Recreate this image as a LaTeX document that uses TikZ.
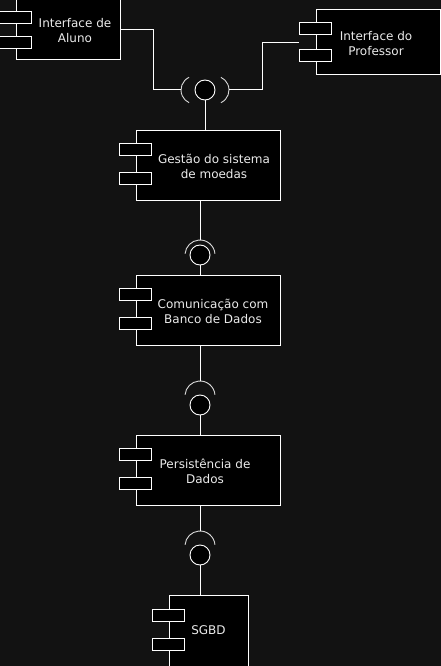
\documentclass[tikz,border=0pt]{standalone}
\usepackage{fontspec}
\setmainfont{DejaVu Sans}
\usetikzlibrary{calc}
\definecolor{bgdark}{RGB}{18,18,18}
\definecolor{labelgray}{RGB}{235,235,235}
% two small port boxes on the left side of a component
\newcommand{\compports}[1]{%
  \node[port] (#1p1) at ($(#1.north west)!0.2!(#1.south west)+(0,6)$) {};
  \node[port] (#1p2) at ($(#1.north west)!0.6!(#1.south west)+(0,6)$) {};}
\begin{document}
\begin{tikzpicture}[x=1pt,y=-1pt,
    comp/.style={draw=white,fill=black,line width=1pt,inner sep=0pt},
    complabel/.style={align=center,text=labelgray,inner sep=0pt,
      font=\fontsize{12}{15}\selectfont},
    port/.style={draw=white,fill=black,line width=1pt,inner sep=0pt,
      minimum width=32pt,minimum height=12pt},
    wire/.style={draw=white,line width=1pt},
    ball/.style={circle,draw=white,fill=black,line width=0.9pt,minimum size=20pt,inner sep=0pt},
    cup/.style={draw=white!85!black,line width=0.9pt}]
   % background
   \fill[bgdark] (0,0) rectangle (441,666);
   \useasboundingbox (0,0) rectangle (441,666);
   % --- components ---
   \node[comp,minimum width=104pt,minimum height=60pt,
     label={[complabel,name=alunotxt,xshift=7pt,yshift=-1pt]center:Interface de\\Aluno}] (aluno) at (68,30) {};
   \compports{aluno}
   \node[comp,minimum width=124pt,minimum height=65pt,
     label={[complabel,name=proftxt,xshift=-2pt,yshift=-1pt]center:Interface do\\Professor}] (prof) at (378,42.5) {};
   \compports{prof}
   \node[comp,minimum width=144pt,minimum height=70pt,
     label={[complabel,name=gestaotxt,xshift=6pt,yshift=-1pt]center:Gestão do sistema\\de moedas}] (gestao) at (208,165) {};
   \compports{gestao}
   \node[comp,minimum width=144pt,minimum height=70pt,
     label={[complabel,name=comunictxt,xshift=5pt,yshift=-1pt]center:Comunicação com\\Banco de Dados}] (comunic) at (208,310) {};
   \compports{comunic}
   \node[comp,minimum width=144pt,minimum height=70pt,
     label={[complabel,name=persisttxt,xshift=-3pt,yshift=-1pt]center:Persistência de\\Dados}] (persist) at (208,470) {};
   \compports{persist}
   \node[comp,minimum width=79pt,minimum height=72pt,
     label={[complabel,name=sgbdtxt,yshift=1pt]center:SGBD}] (sgbd) at (208.5,631) {};
   \compports{sgbd}
   % --- top socket: ball with a cup on each side ---
   \node[ball] (b1) at (205,90) {};
   \coordinate (c1w) at (195,90);
   \coordinate (c1e) at (215,90);
   \coordinate (s1w) at (181,90);
   \coordinate (s1e) at (229,90);
   \draw[cup] ($(c1w)+(115:14pt)$) arc[start angle=115,end angle=245,radius=14pt];
   \draw[cup] ($(c1e)+(-65:14pt)$) arc[start angle=-65,end angle=65,radius=14pt];
   \draw[wire] (aluno.east) -- ++(33,0) |- (s1w);
   \draw[wire] (profp1.south west) ++(0,7.5) coordinate (pe) (pe) -- ++(-37,0) |- (s1e);
   \draw[wire] (b1) -- (gestao.north -| b1);
   % --- socket between Gestao and Comunicacao ---
   \node[ball] (b2) at (200,255) {};
   \coordinate (c2) at (200,255);
   \coordinate (c2top) at (200,240);
   \draw[cup] ($(c2)+(5:15pt)$) arc[start angle=5,end angle=175,radius=15pt];
   \draw[wire] (gestao.south -| b2) -- (c2top);
   \draw[wire] (b2) -- (comunic.north -| b2);
   % --- socket between Comunicacao and Persistencia ---
   \node[ball] (b3) at (200,405) {};
   \coordinate (c3) at (200,396);
   \coordinate (c3top) at (200,381);
   \draw[cup] ($(c3)+(5:15pt)$) arc[start angle=5,end angle=175,radius=15pt];
   \draw[wire] (comunic.south -| b3) -- (c3top);
   \draw[wire] (b3) -- (persist.north -| b3);
   % --- socket between Persistencia and SGBD ---
   \node[ball] (b4) at (200,555) {};
   \coordinate (c4) at (200,546);
   \coordinate (c4top) at (200,531);
   \draw[cup] ($(c4)+(5:15pt)$) arc[start angle=5,end angle=175,radius=15pt];
   \draw[wire] (persist.south -| b4) -- (c4top);
   \draw[wire] (b4) -- (sgbd.north -| b4);
\end{tikzpicture}
\end{document}
